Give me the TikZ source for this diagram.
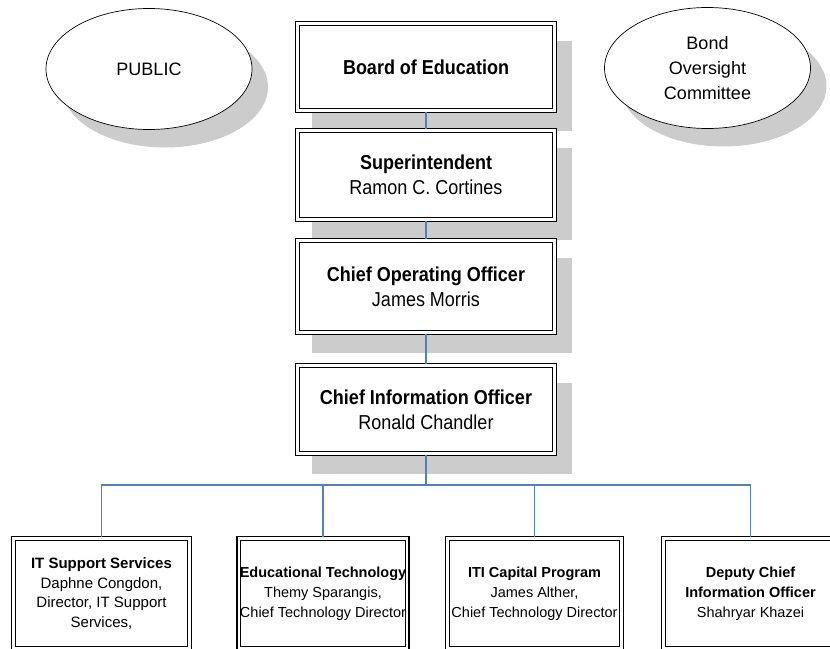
\documentclass[tikz,border=0pt]{standalone}
\usepackage{fontspec}
\setmainfont{Liberation Sans}
\usetikzlibrary{shapes.geometric,backgrounds,calc}
\definecolor{connblue}{RGB}{79,129,189}
\definecolor{shadowgray}{RGB}{204,204,204}
\newcommand{\vstretch}[1]{\scalebox{1}[1.12]{#1}}
\begin{document}
\begin{tikzpicture}[x=1pt,y=-1pt,
  box/.style={draw=black, line width=1.4pt, fill=white, inner sep=2pt, outer sep=0pt, align=center},
  topbox/.style={box, minimum width=260.6pt, font=\fontsize{18}{25}\selectfont},
  lowbox/.style={box, minimum height=113.6pt, font=\fontsize{14.5}{20}\selectfont},
  oval/.style={ellipse, draw=black, line width=0.7pt, fill=white, minimum width=206pt, minimum height=121pt, inner sep=0pt, outer sep=0pt, align=center, font=\fontsize{18}{25}\selectfont},
  conn/.style={draw=connblue, line width=1.3pt},
  inner/.style={draw=black, line width=0.9pt},
  shadow/.style={fill=shadowgray, draw=none}
]
\useasboundingbox (0,0) rectangle (830,648);

% ovals
\node[oval] (public) at (149,69) {PUBLIC};
\node[oval] (bond) at (707.5,68) {Bond\\Oversight\\Committee};

% main stack
\node[topbox, minimum height=90.6pt] (board) at (426,67) {\vstretch{\textbf{Board of Education}}};
\node[topbox, minimum height=92.6pt] (super) at (426,175) {\vstretch{\textbf{Superintendent}}\\\vstretch{Ramon C. Cortines}};
\node[topbox, minimum height=95.6pt] (coo) at (426,286.5) {\vstretch{\textbf{Chief Operating Officer}}\\\vstretch{James Morris}};
\node[topbox, minimum height=91.6pt] (cio) at (426,409.5) {\vstretch{\textbf{Chief Information Officer}}\\\vstretch{Ronald Chandler}};

% lower row
\node[lowbox, minimum width=179.6pt, font=\fontsize{15}{19.5}\selectfont] (b1) at (101.5,593.5) {\textbf{IT Support Services}\\Daphne Congdon,\\Director, IT Support\\Services,};
\node[lowbox, minimum width=172pt] (b2) at (323,593.5) {\textbf{Educational Technology}\\Themy Sparangis,\\Chief Technology Director};
\node[lowbox, minimum width=177.6pt] (b3) at (534.5,593.5) {\textbf{ITI Capital Program}\\James Alther,\\Chief Technology Director};
\node[lowbox, minimum width=177.6pt] (b4) at (750.5,593.5) {\textbf{Deputy Chief}\\\textbf{Information Officer}\\Shahryar Khazei};

% inner lines of the double borders
\foreach \n in {board,super,coo,cio,b1,b2,b3,b4}
  \draw[inner] ($(\n.north west)+(3.6,3.6)$) rectangle ($(\n.south east)+(-3.6,-3.6)$);

% connectors
\coordinate (bus) at (426,485);
\draw[conn] (board.south) -- (super.north);
\draw[conn] (super.south) -- (coo.north);
\draw[conn] (coo.south) -- (cio.north);
\draw[conn] (cio.south) -- (bus);
\draw[conn] (bus) -| (b1.north);
\draw[conn] (bus) -| (b2.north);
\draw[conn] (bus) -| (b3.north);
\draw[conn] (bus) -| (b4.north);

% shadows and background
\begin{scope}[on background layer]
  \fill[white] (0,0) rectangle (830,648);
  \fill[shadow] ($(public.center)+(16,18)$) ellipse [x radius=103pt, y radius=60.5pt];
  \fill[shadow] ($(bond.center)+(16,18)$) ellipse [x radius=103pt, y radius=60.5pt];
  \foreach \n in {board,super,coo,cio}
    \fill[shadow] ($(\n.north west)+(16,19)$) rectangle ($(\n.south east)+(16,19)$);
\end{scope}
\end{tikzpicture}
\end{document}
